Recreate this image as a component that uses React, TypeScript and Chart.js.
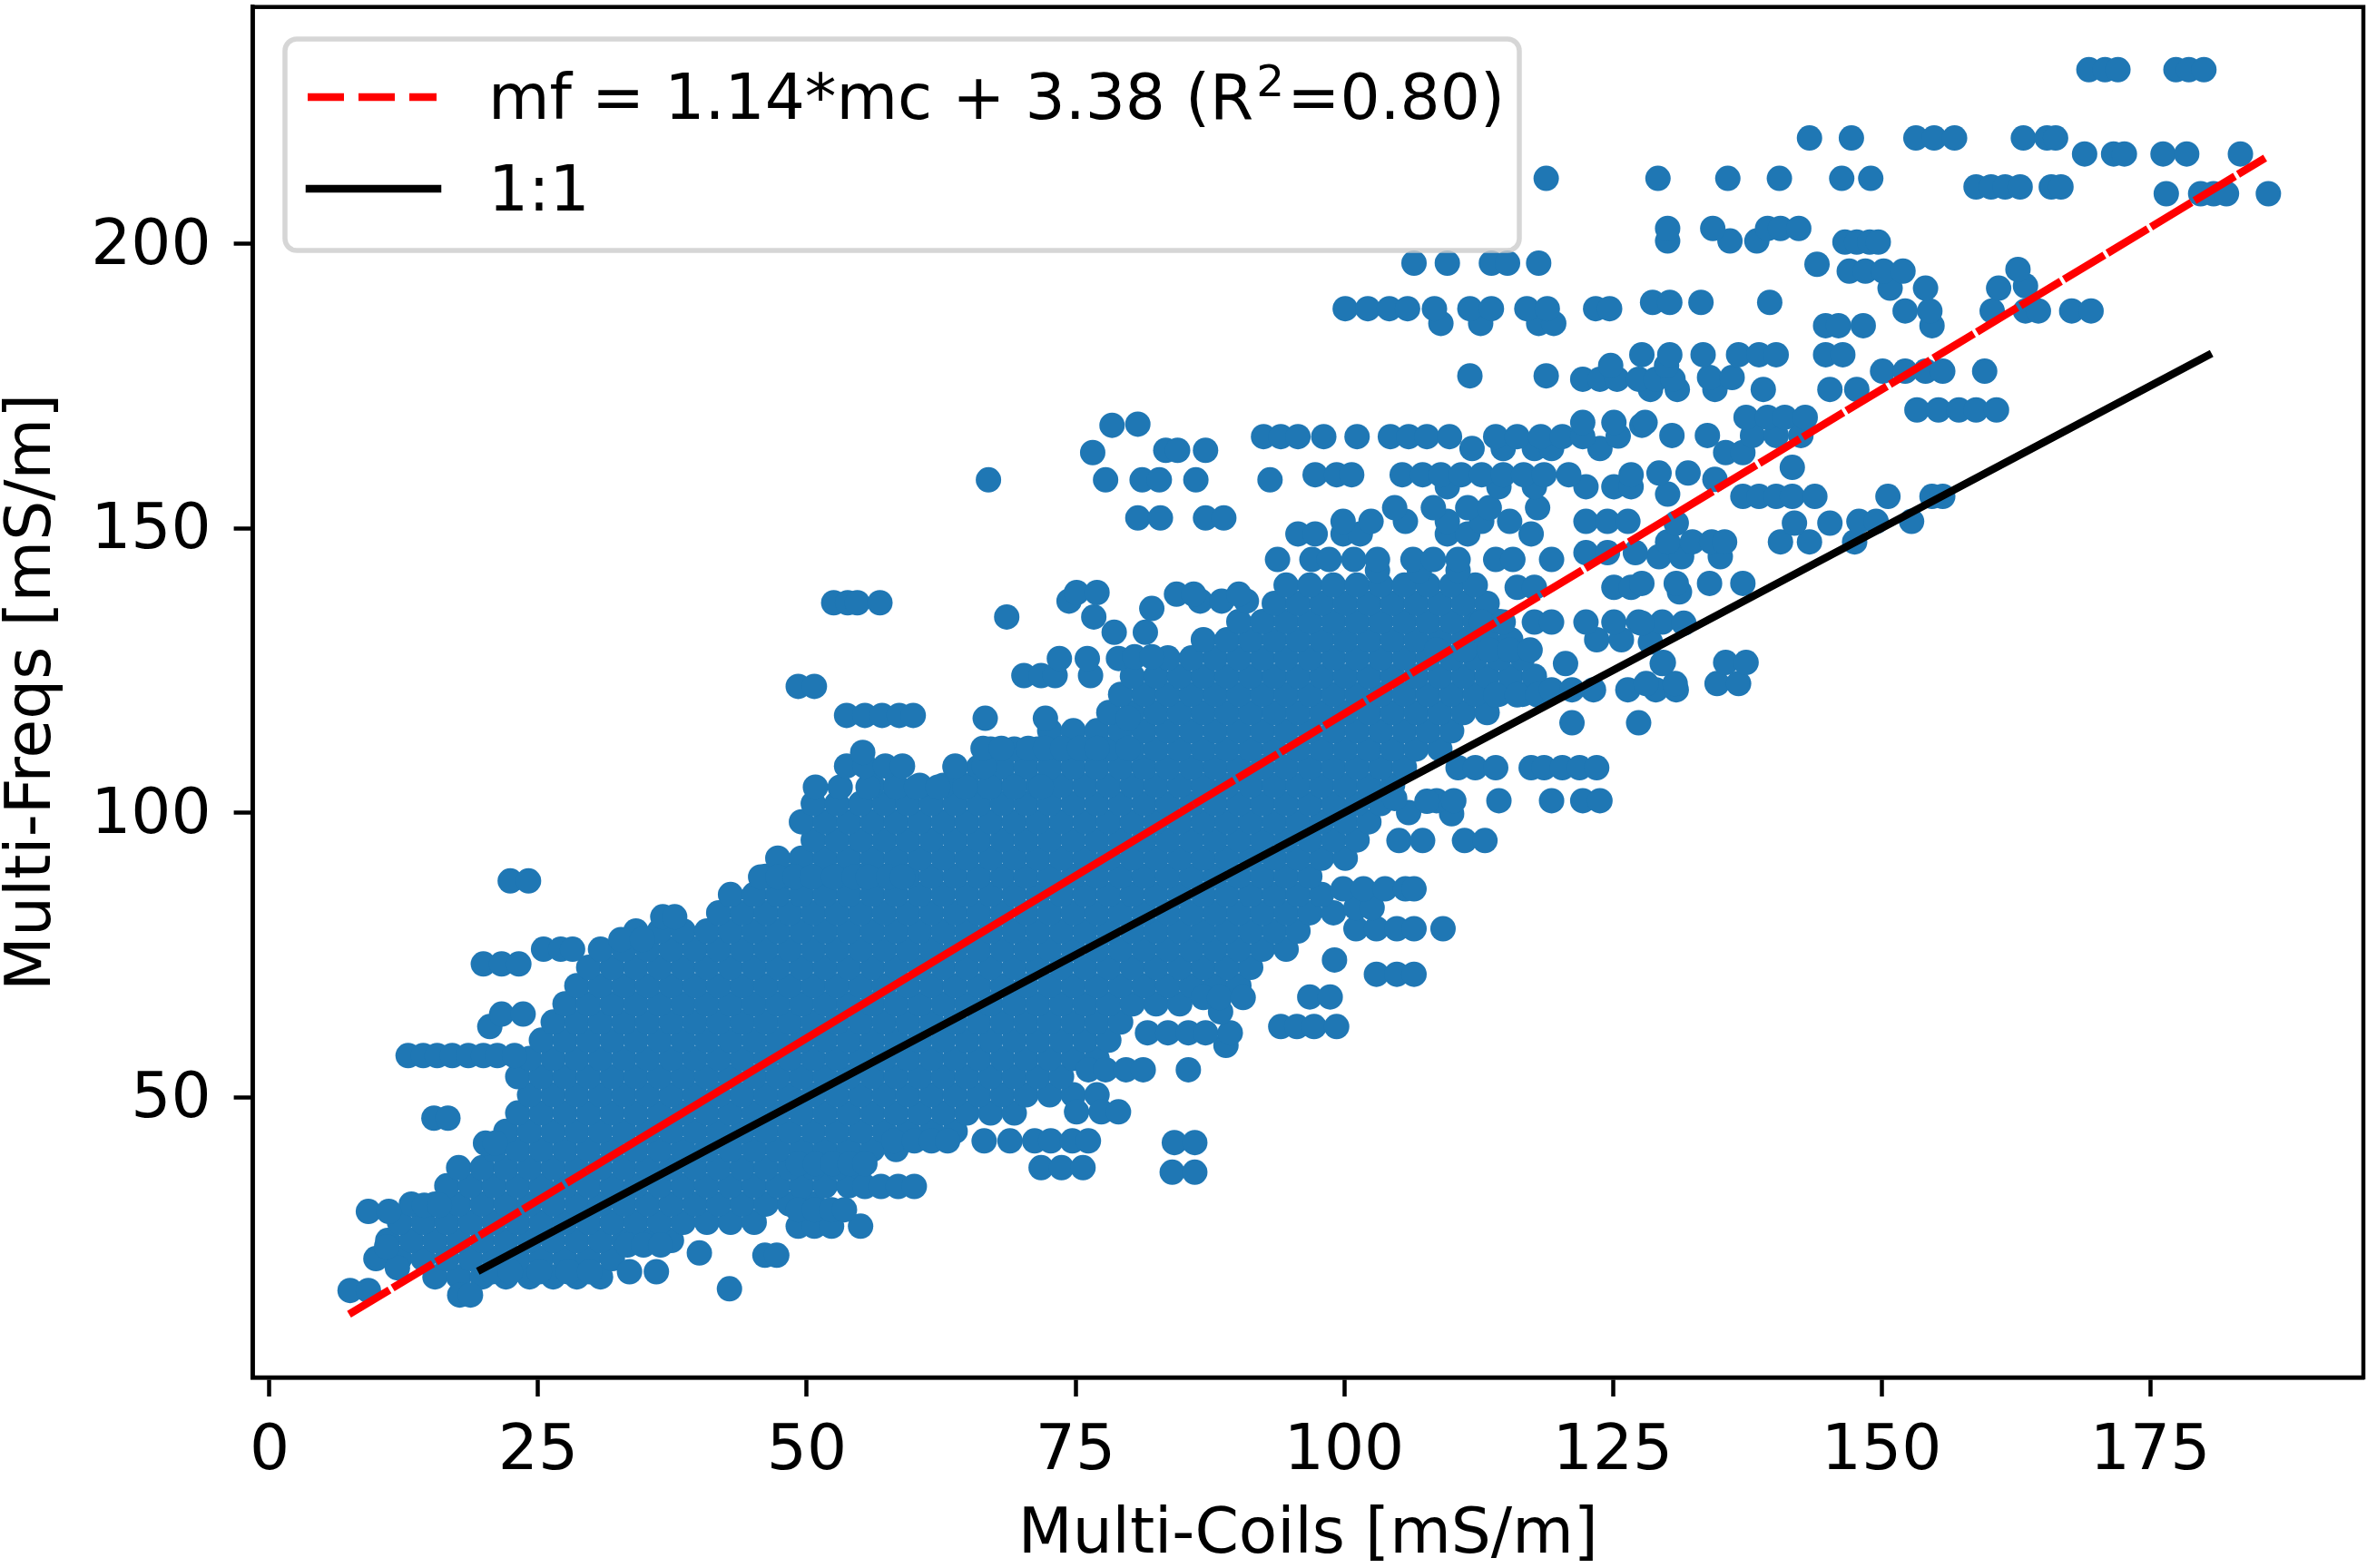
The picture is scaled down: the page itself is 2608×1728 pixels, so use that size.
import { useEffect, useRef } from 'react'
import { Chart, registerables } from 'chart.js'

Chart.register(...registerables)

const W = 2608
const H = 1728
const FONT = "'DejaVu Sans', sans-serif"
const FONT_SIZE = 69.4

// plot box, in canvas pixels
const PLOT = { left: 278.6, right: 2604, top: 7.7, bottom: 1518 }

const xTicks = [0, 25, 50, 75, 100, 125, 150, 175]
const yTicks = [50, 100, 150, 200]
const xRange = [-1.55, 194.84]
const yRange = [0.72, 241.63]

const xLabel = 'Multi-Coils [mS/m]'
const yLabel = 'Multi-Freqs [mS/m]'
const fitLabel = { before: 'mf = 1.14*mc + 3.38 (R', sup: '2', after: '=0.80)' }
const oneToOneLabel = '1:1'

// regression line mf = 1.14*mc + 3.38, split where it runs through the dense cloud
const fitLine = [
  [7.4, 11.82],
  [29.5, 37.01],
  [86.0, 101.42],
  [185.7, 215.08],
]
const oneToOne = [
  [19.7, 19.7],
  [180.4, 180.4],
]

// dense part of the cloud, one row per mf level: [mf, mc values]
const coreRows: [number, number[]][] = [
  [18.4, [15.4, 17.6, 19.8, 22.0, 24.2, 26.4, 28.6, 30.8]],
  [21.6, [9.9, 12.1, 14.3, 16.5, 18.7, 20.9, 23.1, 25.3, 27.5, 29.7, 31.9]],
  [24.8, [11.0, 13.2, 15.4, 17.6, 19.8, 22.0, 24.2, 26.4, 28.6, 30.8, 33.0, 35.2, 37.4]],
  [28.0, [12.1, 14.3, 16.5, 18.7, 20.9, 23.1, 25.3, 27.5, 29.7, 31.9, 34.1, 36.3, 38.5, 40.7, 42.9, 45.1]],
  [31.2, [13.2, 15.4, 17.6, 19.8, 22.0, 24.2, 26.4, 28.6, 30.8, 33.0, 35.2, 37.4, 39.6, 41.8, 44.0, 46.2, 48.4, 50.6]],
  [34.4, [16.5, 18.7, 20.9, 23.1, 25.3, 27.5, 29.7, 31.9, 34.1, 36.3, 38.5, 40.7, 42.9, 45.1, 47.3, 49.5, 51.7, 53.9]],
  [37.6, [17.6, 19.8, 22.0, 24.2, 26.4, 28.6, 30.8, 33.0, 35.2, 37.4, 39.6, 41.8, 44.0, 46.2, 48.4, 50.6, 52.8, 55.0]],
  [40.8, [20.9, 23.1, 25.3, 27.5, 29.7, 31.9, 34.1, 36.3, 38.5, 40.7, 42.9, 45.1, 47.3, 49.5, 51.7, 53.9, 56.1, 58.3]],
  [44.0, [22.0, 24.2, 26.4, 28.6, 30.8, 33.0, 35.2, 37.4, 39.6, 41.8, 44.0, 46.2, 48.4, 50.6, 52.8, 55.0, 57.2, 59.4, 61.6, 63.8]],
  [47.2, [23.1, 25.3, 27.5, 29.7, 31.9, 34.1, 36.3, 38.5, 40.7, 42.9, 45.1, 47.3, 49.5, 51.7, 53.9, 56.1, 58.3, 60.5, 62.7, 64.9, 67.1, 69.3]],
  [50.4, [24.2, 26.4, 28.6, 30.8, 33.0, 35.2, 37.4, 39.6, 41.8, 44.0, 46.2, 48.4, 50.6, 52.8, 55.0, 57.2, 59.4, 61.6, 63.8, 66.0, 68.2, 70.4, 72.6, 74.8, 77.0]],
  [53.6, [23.1, 25.3, 27.5, 29.7, 31.9, 34.1, 36.3, 38.5, 40.7, 42.9, 45.1, 47.3, 49.5, 51.7, 53.9, 56.1, 58.3, 60.5, 62.7, 64.9, 67.1, 69.3, 71.5, 73.7]],
  [56.8, [24.2, 26.4, 28.6, 30.8, 33.0, 35.2, 37.4, 39.6, 41.8, 44.0, 46.2, 48.4, 50.6, 52.8, 55.0, 57.2, 59.4, 61.6, 63.8, 66.0, 68.2, 70.4, 72.6, 74.8, 77.0]],
  [60.0, [25.3, 27.5, 29.7, 31.9, 34.1, 36.3, 38.5, 40.7, 42.9, 45.1, 47.3, 49.5, 51.7, 53.9, 56.1, 58.3, 60.5, 62.7, 64.9, 67.1, 69.3, 71.5, 73.7, 75.9, 78.1]],
  [63.2, [26.4, 28.6, 30.8, 33.0, 35.2, 37.4, 39.6, 41.8, 44.0, 46.2, 48.4, 50.6, 52.8, 55.0, 57.2, 59.4, 61.6, 63.8, 66.0, 68.2, 70.4, 72.6, 74.8, 77.0, 79.2]],
  [66.4, [27.5, 29.7, 31.9, 34.1, 36.3, 38.5, 40.7, 42.9, 45.1, 47.3, 49.5, 51.7, 53.9, 56.1, 58.3, 60.5, 62.7, 64.9, 67.1, 69.3, 71.5, 73.7, 75.9, 78.1, 80.3, 82.5, 84.7]],
  [69.6, [28.6, 30.8, 33.0, 35.2, 37.4, 39.6, 41.8, 44.0, 46.2, 48.4, 50.6, 52.8, 55.0, 57.2, 59.4, 61.6, 63.8, 66.0, 68.2, 70.4, 72.6, 74.8, 77.0, 79.2, 81.4, 83.6, 85.8, 88.0, 90.2]],
  [72.8, [29.7, 31.9, 34.1, 36.3, 38.5, 40.7, 42.9, 45.1, 47.3, 49.5, 51.7, 53.9, 56.1, 58.3, 60.5, 62.7, 64.9, 67.1, 69.3, 71.5, 73.7, 75.9, 78.1, 80.3, 82.5, 84.7, 86.9, 89.1, 91.3]],
  [76.0, [30.8, 33.0, 35.2, 37.4, 39.6, 41.8, 44.0, 46.2, 48.4, 50.6, 52.8, 55.0, 57.2, 59.4, 61.6, 63.8, 66.0, 68.2, 70.4, 72.6, 74.8, 77.0, 79.2, 81.4, 83.6, 85.8, 88.0, 90.2, 92.4, 94.6]],
  [79.2, [34.1, 36.3, 38.5, 40.7, 42.9, 45.1, 47.3, 49.5, 51.7, 53.9, 56.1, 58.3, 60.5, 62.7, 64.9, 67.1, 69.3, 71.5, 73.7, 75.9, 78.1, 80.3, 82.5, 84.7, 86.9, 89.1, 91.3, 93.5, 95.7]],
  [82.4, [41.8, 44.0, 46.2, 48.4, 50.6, 52.8, 55.0, 57.2, 59.4, 61.6, 63.8, 66.0, 68.2, 70.4, 72.6, 74.8, 77.0, 79.2, 81.4, 83.6, 85.8, 88.0, 90.2, 92.4, 94.6, 96.8, 99.0]],
  [85.6, [42.9, 45.1, 47.3, 49.5, 51.7, 53.9, 56.1, 58.3, 60.5, 62.7, 64.9, 67.1, 69.3, 71.5, 73.7, 75.9, 78.1, 80.3, 82.5, 84.7, 86.9, 89.1, 91.3, 93.5, 95.7, 97.9]],
  [88.8, [46.2, 48.4, 50.6, 52.8, 55.0, 57.2, 59.4, 61.6, 63.8, 66.0, 68.2, 70.4, 72.6, 74.8, 77.0, 79.2, 81.4, 83.6, 85.8, 88.0, 90.2, 92.4, 94.6, 96.8]],
  [92.0, [47.3, 49.5, 51.7, 53.9, 56.1, 58.3, 60.5, 62.7, 64.9, 67.1, 69.3, 71.5, 73.7, 75.9, 78.1, 80.3, 82.5, 84.7, 86.9, 89.1, 91.3, 93.5, 95.7, 97.9, 100.1]],
  [95.2, [50.6, 52.8, 55.0, 57.2, 59.4, 61.6, 63.8, 66.0, 68.2, 70.4, 72.6, 74.8, 77.0, 79.2, 81.4, 83.6, 85.8, 88.0, 90.2, 92.4, 94.6, 96.8, 99.0, 101.2]],
  [98.4, [49.5, 51.7, 53.9, 56.1, 58.3, 60.5, 62.7, 64.9, 67.1, 69.3, 71.5, 73.7, 75.9, 78.1, 80.3, 82.5, 84.7, 86.9, 89.1, 91.3, 93.5, 95.7, 97.9, 100.1, 102.3]],
  [101.6, [50.6, 52.8, 55.0, 57.2, 59.4, 61.6, 63.8, 66.0, 68.2, 70.4, 72.6, 74.8, 77.0, 79.2, 81.4, 83.6, 85.8, 88.0, 90.2, 92.4, 94.6, 96.8, 99.0, 101.2, 103.4]],
  [104.8, [56.1, 58.3, 60.5, 62.7, 64.9, 67.1, 69.3, 71.5, 73.7, 75.9, 78.1, 80.3, 82.5, 84.7, 86.9, 89.1, 91.3, 93.5, 95.7, 97.9, 100.1, 102.3, 104.5]],
  [108.0, [63.8, 66.0, 68.2, 70.4, 72.6, 74.8, 77.0, 79.2, 81.4, 83.6, 85.8, 88.0, 90.2, 92.4, 94.6, 96.8, 99.0, 101.2, 103.4, 105.6]],
  [111.2, [67.1, 69.3, 71.5, 73.7, 75.9, 78.1, 80.3, 82.5, 84.7, 86.9, 89.1, 91.3, 93.5, 95.7, 97.9, 100.1, 102.3, 104.5, 106.7, 108.9]],
  [114.4, [72.6, 74.8, 77.0, 79.2, 81.4, 83.6, 85.8, 88.0, 90.2, 92.4, 94.6, 96.8, 99.0, 101.2, 103.4, 105.6, 107.8, 110.0]],
  [117.6, [78.1, 80.3, 82.5, 84.7, 86.9, 89.1, 91.3, 93.5, 95.7, 97.9, 100.1, 102.3, 104.5, 106.7, 108.9, 111.1, 113.3]],
  [120.8, [79.2, 81.4, 83.6, 85.8, 88.0, 90.2, 92.4, 94.6, 96.8, 99.0, 101.2, 103.4, 105.6, 107.8, 110.0, 112.2, 114.4, 116.6]],
  [124.0, [80.3, 82.5, 84.7, 86.9, 89.1, 91.3, 93.5, 95.7, 97.9, 100.1, 102.3, 104.5, 106.7, 108.9, 111.1, 113.3, 115.5, 117.7]],
  [127.2, [83.6, 85.8, 88.0, 90.2, 92.4, 94.6, 96.8, 99.0, 101.2, 103.4, 105.6, 107.8, 110.0, 112.2, 114.4, 116.6]],
  [130.4, [86.9, 89.1, 91.3, 93.5, 95.7, 97.9, 100.1, 102.3, 104.5, 106.7, 108.9, 111.1, 113.3, 115.5]],
  [133.6, [90.2, 92.4, 94.6, 96.8, 99.0, 101.2, 103.4, 105.6, 107.8, 110.0, 112.2, 114.4]],
  [136.8, [93.5, 95.7, 97.9, 100.1, 102.3, 104.5, 106.7, 108.9, 111.1, 113.3]],
  [140.0, [94.6, 96.8, 99.0, 101.2, 103.4, 105.6, 107.8, 110.0, 112.2]],
]

// scattered points outside the dense cloud: [mc, mf]
const sparseLow: [number, number][] = [
  [7.5, 16.0], [9.2, 16.0], [17.7, 15.2], [18.7, 15.2], [11.9, 20.0], [10.9, 23.7],
  [20.7, 19.3], [22.4, 19.3], [25.1, 19.3], [27.8, 19.3], [29.8, 19.3], [33.5, 19.3], [36.0, 19.3],
  [42.8, 16.3], [40.0, 22.6], [46.1, 22.2], [47.2, 22.2],
  [33.3, 24.0], [34.8, 24.0], [36.4, 24.0],
  [9.2, 29.9], [11.1, 29.9], [14.4, 31.0], [15.8, 31.0],
  [49.2, 27.3], [50.7, 27.3], [52.3, 27.3], [55.0, 27.3],
  [49.2, 30.2], [50.7, 30.2], [52.3, 30.2], [53.5, 30.2],
  [55.4, 34.3], [56.9, 34.3], [58.5, 34.3], [60.0, 34.3],
  [49.2, 38.3], [50.8, 38.3], [52.4, 38.3], [54.0, 38.3], [55.4, 38.3],
  [58.1, 42.3], [60.0, 42.3], [61.6, 42.3], [63.1, 42.3],
  [20.1, 41.9], [21.0, 41.9], [15.3, 46.3], [16.6, 46.3],
  [66.5, 42.3], [68.9, 42.3], [71.2, 42.3], [72.7, 42.3], [74.7, 42.3], [76.2, 42.3],
  [84.2, 42.0], [86.1, 42.0], [84.0, 36.8], [86.1, 36.8],
  [71.8, 37.6], [73.7, 37.6], [75.7, 37.6],
  [75.1, 47.4], [77.4, 47.4], [79.0, 47.4],
  [76.2, 54.8], [77.8, 54.8], [79.7, 54.8], [81.3, 54.8], [85.5, 54.8],
  [12.9, 57.3], [14.3, 57.3], [15.6, 57.3], [17.0, 57.3], [18.5, 57.3], [19.9, 57.3], [21.2, 57.3], [22.8, 57.3],
  [89.0, 59.1],
]

const sparseMid: [number, number][] = [
  [20.5, 62.4], [21.6, 64.6], [23.6, 64.6],
  [19.9, 73.4], [21.6, 73.4], [23.2, 73.4],
  [25.5, 76.0], [27.1, 76.0], [28.2, 76.0],
  [32.7, 77.7], [34.7, 77.7], [36.6, 81.7], [37.7, 81.7],
  [22.4, 88.0], [24.1, 88.0],
  [81.7, 61.3], [83.6, 61.3], [85.5, 61.3], [87.1, 61.3], [89.4, 61.3],
  [94.1, 62.4], [95.6, 62.4], [97.2, 62.4], [99.3, 62.4], [88.5, 65.0],
  [86.9, 67.5], [88.4, 67.5], [90.6, 67.5], [96.8, 67.6], [98.7, 67.6],
  [103.0, 71.6], [104.9, 71.6], [106.5, 71.6], [99.1, 74.1],
  [101.1, 79.6], [103.0, 79.6], [104.9, 79.6], [106.5, 79.6], [109.2, 79.6],
  [101.1, 83.3], [102.6, 83.3],
  [99.9, 86.6], [101.8, 86.6], [103.8, 86.6], [105.7, 86.6], [106.5, 86.6],
  [45.7, 88.7], [47.3, 88.7], [48.9, 88.7], [50.5, 88.7], [52.5, 88.7], [54.4, 88.7], [55.7, 88.7], [57.6, 88.7], [58.9, 88.7],
  [105.1, 95.1], [107.3, 95.1], [111.2, 95.1], [113.1, 95.1],
  [106.0, 100.0], [110.0, 99.8],
  [108.6, 102.1], [110.2, 102.1], [114.4, 102.1], [119.3, 102.1], [122.2, 102.1], [123.8, 102.1],
  [104.7, 102.5], [107.7, 102.0],
  [50.8, 104.5], [53.1, 104.5], [55.7, 104.5], [58.3, 104.5], [60.2, 104.5], [62.2, 104.5], [64.7, 104.5], [67.0, 104.5], [69.3, 104.5], [71.8, 104.5],
  [110.6, 107.9], [112.2, 107.9], [114.1, 107.9], [117.4, 107.9], [118.6, 107.9], [120.3, 107.9], [121.9, 107.9], [123.5, 107.9],
  [53.7, 108.2], [55.4, 108.2], [57.3, 108.2], [58.9, 108.2], [63.8, 108.2], [66.5, 108.2], [55.2, 110.6],
  [66.4, 111.3], [68.1, 111.3], [70.6, 111.3], [72.2, 111.3], [73.8, 111.3], [75.4, 111.3], [77.0, 111.3], [79.9, 111.3],
  [121.2, 115.8], [127.4, 115.8],
  [66.6, 116.6], [72.2, 116.6], [79.9, 116.6],
  [53.7, 117.1], [55.4, 117.1], [57.0, 117.1], [58.6, 117.1], [59.9, 117.1],
  [114.1, 120.7], [116.1, 120.7], [118.0, 120.7],
  [119.3, 121.6], [121.2, 121.6], [123.2, 121.6], [126.4, 121.6], [129.0, 121.6], [130.9, 121.6],
  [49.2, 122.2], [50.7, 122.2],
  [128.1, 122.7], [130.8, 122.7], [134.7, 122.7], [136.7, 122.7],
  [70.2, 124.1], [71.8, 124.1], [73.1, 124.1], [76.4, 124.1],
]

const sparseHigh: [number, number][] = [
  [120.6, 126.2], [129.6, 126.2], [129.7, 126.4], [135.5, 126.4], [137.4, 126.4],
  [73.5, 127.1], [76.1, 127.1], [79.0, 127.1], [80.5, 127.4], [82.1, 127.4],
  [108.6, 128.6], [111.2, 128.6], [113.5, 128.6], [115.4, 128.6], [117.3, 128.6],
  [123.5, 130.4], [125.8, 130.4], [128.5, 130.0],
  [78.6, 131.7], [81.5, 131.7],
  [112.8, 133.5], [114.8, 133.5], [117.7, 133.5], [119.3, 133.5], [122.5, 133.5], [125.1, 133.5], [127.4, 133.5], [129.6, 133.5], [131.6, 133.3], [127.7, 133.3],
  [68.6, 134.4], [76.7, 134.4], [82.1, 135.9],
  [52.5, 136.9], [53.8, 136.9], [54.7, 136.9], [56.8, 136.9],
  [74.4, 137.2], [86.6, 137.2], [88.6, 137.2], [90.9, 137.2],
  [75.1, 138.7], [77.0, 138.7], [84.4, 138.4], [86.0, 138.4], [90.2, 138.4],
  [131.2, 138.8],
  [116.1, 139.6], [117.7, 139.6], [125.1, 139.6], [126.7, 139.6],
  [127.7, 140.3], [130.9, 140.3], [134.0, 140.3], [137.1, 140.3],
  [103.1, 142.6], [107.0, 142.6], [110.6, 142.6],
  [93.8, 144.5], [97.0, 144.5], [98.6, 144.5], [100.9, 144.5], [103.1, 144.5], [106.4, 144.5], [108.3, 144.5], [110.6, 144.5], [114.1, 144.5], [115.7, 144.5], [119.3, 144.5],
  [129.3, 145.0], [131.4, 145.0], [135.0, 145.0],
  [122.5, 145.7], [124.5, 145.7], [127.1, 145.7],
  [130.1, 147.6], [132.4, 147.6], [134.2, 147.6], [135.4, 147.6], [140.6, 147.6], [143.3, 147.6], [147.5, 147.6],
  [95.7, 149.0], [97.3, 149.0], [99.9, 149.0], [101.5, 149.0], [109.6, 149.0], [111.5, 149.0], [117.4, 149.0],
  [99.9, 151.2], [102.5, 151.2], [105.7, 151.2], [109.6, 151.2], [112.8, 151.2], [115.4, 151.2], [122.5, 151.2], [124.5, 151.2], [126.4, 151.2],
  [130.9, 150.9], [141.9, 150.9], [145.2, 150.9], [147.9, 151.2], [149.5, 151.2], [152.8, 151.2],
  [80.8, 151.8], [82.9, 151.8], [87.1, 151.8], [88.8, 151.8],
  [104.7, 153.6], [108.3, 153.6], [111.5, 153.6], [113.5, 153.6], [118.0, 153.6],
  [137.1, 155.6], [138.6, 155.6], [140.2, 155.6], [141.7, 155.6], [143.8, 155.6], [150.6, 155.6], [154.7, 155.6], [155.7, 155.6], [130.1, 156.0],
  [109.6, 157.3], [114.4, 157.3], [117.7, 157.3], [122.5, 157.3], [125.1, 157.3], [126.7, 157.3],
  [66.9, 158.5], [77.8, 158.5], [81.2, 158.5], [82.8, 158.5], [86.2, 158.5], [93.1, 158.5],
  [97.3, 159.4], [99.3, 159.4], [100.7, 159.4], [105.4, 159.4], [107.3, 159.4], [109.0, 159.4], [110.9, 159.4], [112.8, 159.4], [114.8, 159.4], [116.7, 159.4], [118.6, 159.4], [120.9, 159.4], [126.7, 159.4],
  [129.3, 159.7], [132.0, 159.7], [134.5, 158.6], [141.7, 160.7],
  [76.6, 163.3], [83.4, 163.7], [84.5, 163.7], [87.1, 163.7],
  [111.9, 164.0], [114.8, 164.0], [117.7, 164.0], [119.3, 164.0], [123.8, 164.0],
  [135.5, 163.3], [137.1, 163.3],
  [92.5, 166.1], [94.1, 166.1], [95.7, 166.1], [98.1, 166.1], [101.2, 166.1], [104.3, 166.1], [106.0, 166.1], [107.7, 166.1], [109.8, 166.1], [114.1, 166.1], [116.1, 166.1], [118.3, 166.1], [120.3, 166.1], [122.2, 166.1], [125.5, 166.2],
  [130.5, 166.3], [133.8, 166.3], [138.0, 166.3], [140.2, 166.3], [142.5, 166.3],
  [78.4, 168.1], [80.8, 168.3], [127.7, 168.1], [122.2, 168.6], [125.1, 168.6], [128.0, 168.6],
  [137.4, 169.5], [139.4, 169.5], [141.0, 169.5], [142.9, 169.5],
  [153.3, 170.8], [155.3, 170.8], [157.2, 170.8], [158.8, 170.8], [160.7, 170.8],
  [128.5, 174.4], [131.0, 174.4], [134.5, 174.4], [139.0, 174.4], [145.2, 174.4], [147.7, 174.4],
]

const sparseTop: [number, number][] = [
  [111.7, 176.8], [118.8, 176.8],
  [122.2, 176.2], [123.8, 176.2], [125.4, 176.2], [127.4, 176.2], [129.0, 176.2], [130.6, 176.2],
  [134.0, 176.5], [136.1, 176.5], [124.8, 178.6], [130.0, 178.6],
  [150.1, 177.6], [152.2, 177.6], [154.1, 177.6], [155.7, 177.6], [159.6, 177.6],
  [127.7, 180.5], [130.3, 180.5], [133.4, 180.5], [136.7, 180.5], [138.6, 180.5], [140.2, 180.5], [144.8, 180.5], [146.4, 180.5],
  [144.8, 185.6], [146.0, 185.6], [148.3, 185.6], [154.7, 185.6],
  [109.0, 186.0], [112.7, 186.0], [118.1, 186.0], [119.5, 186.0],
  [100.1, 188.6], [102.2, 188.6], [104.2, 188.6], [105.9, 188.6], [108.4, 188.6], [111.7, 188.6], [113.7, 188.6], [117.0, 188.6], [118.9, 188.6], [123.4, 188.6], [124.7, 188.6],
  [152.2, 188.2], [154.5, 188.2], [160.3, 188.2], [163.4, 188.2], [164.6, 188.2], [167.7, 188.2], [169.5, 188.2],
  [128.7, 189.7], [130.3, 189.7], [133.2, 189.7], [139.6, 189.7],
  [150.8, 192.2], [154.1, 192.2], [160.9, 192.2], [163.4, 192.6],
  [147.0, 195.2], [148.5, 195.2], [150.2, 195.2], [152.0, 195.2], [162.7, 195.5], [144.0, 196.4],
  [106.5, 196.6], [109.6, 196.6], [113.7, 196.6], [115.2, 196.6], [118.1, 196.6],
  [146.6, 200.3], [147.7, 200.3], [148.9, 200.3], [149.7, 200.3],
  [130.1, 200.5], [135.9, 200.5], [138.4, 200.5],
  [130.1, 202.7], [134.3, 202.7], [139.4, 202.7], [140.6, 202.7], [142.3, 202.7],
  [176.5, 208.8], [179.7, 208.8], [180.9, 208.8], [182.1, 208.8], [186.0, 208.8],
  [158.8, 210.0], [160.2, 210.0], [161.5, 210.0], [162.9, 210.0], [165.8, 210.0], [166.7, 210.0],
  [118.8, 211.5], [129.2, 211.5], [135.7, 211.5], [140.5, 211.5], [146.3, 211.5], [149.0, 211.5],
  [168.9, 215.8], [171.6, 215.8], [172.6, 215.8], [176.2, 215.8], [178.4, 215.8], [183.4, 215.8],
  [143.3, 218.6], [147.2, 218.6], [153.2, 218.6], [154.9, 218.6], [156.8, 218.6], [163.2, 218.6], [165.4, 218.6], [166.2, 218.6],
  [169.3, 230.6], [170.8, 230.6], [172.0, 230.6], [177.4, 230.6], [178.6, 230.6], [180.0, 230.6],
]

const toXY = (pairs: number[][]) => pairs.map(([x, y]) => ({ x, y }))

// frame on all four sides plus the matplotlib-style legend box
const frameLegendPlugin = {
  id: 'frameLegend',
  afterDatasetsDraw(chart: Chart) {
    const { ctx, chartArea: a } = chart
    ctx.save()
    ctx.strokeStyle = '#000'
    ctx.lineWidth = 4.5
    ctx.strokeRect(a.left, a.top, a.right - a.left, a.bottom - a.top)

    const bx = a.left + 35.4
    const by = a.top + 35.3
    const bw = 1360
    const bh = 233
    ctx.beginPath()
    ctx.roundRect(bx, by, bw, bh, 13)
    ctx.fillStyle = 'rgba(255,255,255,0.8)'
    ctx.fill()
    ctx.lineWidth = 5.5
    ctx.strokeStyle = 'rgba(204,204,204,0.8)'
    ctx.stroke()

    // row 1: dashed red fit
    ctx.beginPath()
    ctx.setLineDash([40, 16])
    ctx.lineCap = 'butt'
    ctx.strokeStyle = '#ff0000'
    ctx.lineWidth = 8.5
    ctx.moveTo(bx + 25, by + 64)
    ctx.lineTo(bx + 167, by + 64)
    ctx.stroke()
    ctx.setLineDash([])

    // row 2: solid black 1:1
    ctx.beginPath()
    ctx.strokeStyle = '#000'
    ctx.lineCap = 'square'
    ctx.moveTo(bx + 27, by + 165)
    ctx.lineTo(bx + 168, by + 165)
    ctx.stroke()

    ctx.fillStyle = '#000'
    ctx.textAlign = 'left'
    ctx.textBaseline = 'alphabetic'
    const tx = bx + 224
    ctx.font = `${FONT_SIZE}px ${FONT}`
    ctx.fillText(fitLabel.before, tx, by + 88)
    let cx = tx + ctx.measureText(fitLabel.before).width + 3
    ctx.font = `${FONT_SIZE * 0.7}px ${FONT}`
    ctx.fillText(fitLabel.sup, cx, by + 63)
    cx += ctx.measureText(fitLabel.sup).width + 3
    ctx.font = `${FONT_SIZE}px ${FONT}`
    ctx.fillText(fitLabel.after, cx, by + 88)
    ctx.fillText(oneToOneLabel, tx, by + 189)
    ctx.restore()
  },
}

const tickFont = { family: FONT, size: FONT_SIZE }
const titleFont = { family: FONT, size: FONT_SIZE, lineHeight: 1 }

function buildConfig(): any {
  const cloud = [
    ...coreRows.flatMap(([mf, mcs]) => mcs.map((mc) => ({ x: mc, y: mf }))),
    ...toXY(sparseLow),
    ...toXY(sparseMid),
    ...toXY(sparseHigh),
    ...toXY(sparseTop),
  ]
  return {
    type: 'scatter',
    data: {
      datasets: [
        {
          label: 'fit',
          data: toXY(fitLine),
          showLine: true,
          borderColor: '#ff0000',
          borderWidth: 8.5,
          borderDash: [52, 4],
          borderCapStyle: 'butt',
          pointRadius: 0,
          segment: { borderDash: (c: any) => (c.p0DataIndex === 1 ? [] : undefined) },
        },
        {
          label: '1:1',
          data: toXY(oneToOne),
          showLine: true,
          borderColor: '#000000',
          borderWidth: 8.5,
          borderCapStyle: 'square',
          pointRadius: 0,
        },
        {
          label: 'data',
          data: cloud,
          backgroundColor: '#1f77b4',
          pointRadius: 14,
          pointHoverRadius: 14,
          pointBorderWidth: 0,
        },
      ],
    },
    options: {
      animation: false,
      responsive: false,
      devicePixelRatio: 1,
      events: [],
      layout: {
        autoPadding: false,
        padding: { left: 0, top: PLOT.top, right: W - PLOT.right, bottom: 0 },
      },
      plugins: { legend: { display: false }, tooltip: { enabled: false } },
      scales: {
        x: {
          type: 'linear',
          position: 'bottom',
          min: xRange[0],
          max: xRange[1],
          afterBuildTicks: (s: any) => {
            s.ticks = xTicks.map((value) => ({ value }))
          },
          afterFit: (s: any) => {
            s.height = H - PLOT.bottom
            s.paddingLeft = 0
            s.paddingRight = 0
          },
          ticks: { font: tickFont, color: '#000', padding: 20, maxRotation: 0, autoSkip: false },
          grid: { drawOnChartArea: false, drawTicks: true, tickLength: 21, tickWidth: 4.5, tickColor: '#000' },
          border: { display: true, color: '#000', width: 4.5 },
          title: { display: true, text: xLabel, color: '#000', font: titleFont, padding: { top: 0, bottom: 0 } },
        },
        y: {
          type: 'linear',
          position: 'left',
          min: yRange[0],
          max: yRange[1],
          afterBuildTicks: (s: any) => {
            s.ticks = yTicks.map((value) => ({ value }))
          },
          afterFit: (s: any) => {
            s.width = PLOT.left
            s.paddingTop = 0
            s.paddingBottom = 0
          },
          ticks: { font: tickFont, color: '#000', padding: 25, labelOffset: 4, autoSkip: false },
          grid: { drawOnChartArea: false, drawTicks: true, tickLength: 21, tickWidth: 4.5, tickColor: '#000' },
          border: { display: true, color: '#000', width: 4.5 },
          title: { display: true, text: yLabel, color: '#000', font: titleFont, padding: { top: 2, bottom: 0 } },
        },
      },
    },
    plugins: [frameLegendPlugin],
  }
}

export default function App() {
  const canvasRef = useRef<HTMLCanvasElement>(null)

  useEffect(() => {
    if (!canvasRef.current) return
    const chart = new Chart(canvasRef.current, buildConfig())
    return () => {
      chart.destroy()
    }
  }, [])

  return (
    <canvas
      ref={canvasRef}
      width={W}
      height={H}
      style={{ position: 'fixed', left: 0, top: 0, width: W, height: H, display: 'block', background: '#fff' }}
    />
  )
}
